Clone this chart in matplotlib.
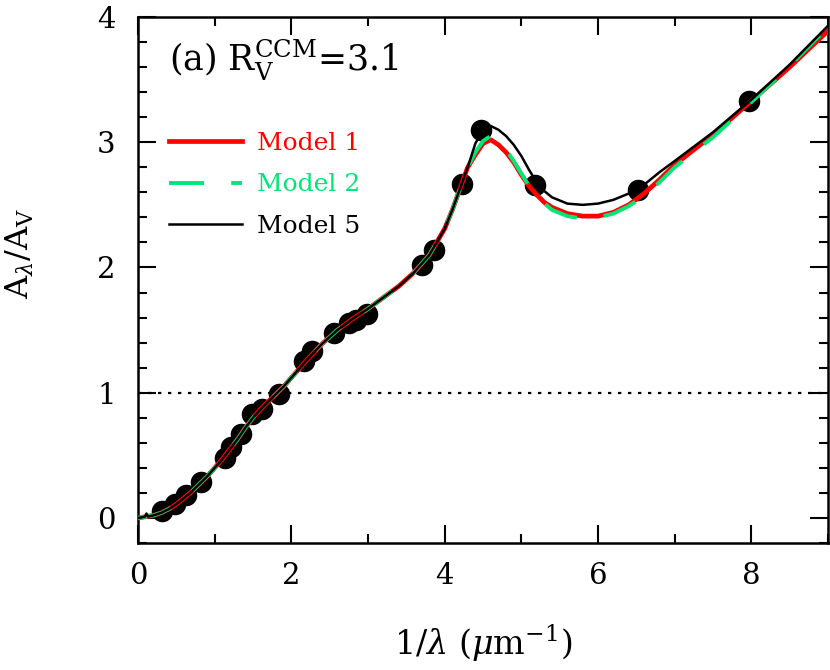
import matplotlib
matplotlib.use("Agg")
import matplotlib.pyplot as plt
from matplotlib.ticker import MultipleLocator

# observed data points
data_x = [0.31, 0.48, 0.62, 0.82, 1.13, 1.21, 1.34, 1.49, 1.62, 1.84,
          2.17, 2.27, 2.56, 2.75, 2.84, 2.99, 3.70, 3.86, 4.23, 4.48,
          5.18, 6.52, 7.97]
data_y = [0.056, 0.11, 0.18, 0.29, 0.48, 0.57, 0.67, 0.83, 0.87, 0.99,
          1.25, 1.33, 1.48, 1.56, 1.58, 1.63, 2.02, 2.14, 2.67, 3.10,
          2.66, 2.62, 3.33]

# common low-x part of curves
low_x = [0.0, 0.05, 0.1, 0.2, 0.3, 0.4, 0.5, 0.6, 0.7, 0.8, 0.9, 1.0, 1.1, 1.2,
         1.3, 1.4, 1.5, 1.6, 1.7, 1.8, 1.9, 2.0, 2.2, 2.4, 2.6, 2.8, 3.0, 3.2,
         3.4, 3.6, 3.8, 4.0, 4.1, 4.2, 4.3]
low_y = [0.0, 0.005, 0.01, 0.02, 0.04, 0.07, 0.11, 0.16, 0.21, 0.27, 0.33, 0.40,
         0.47, 0.55, 0.63, 0.72, 0.80, 0.87, 0.93, 0.99, 1.05, 1.12, 1.26, 1.39,
         1.50, 1.59, 1.67, 1.76, 1.85, 1.96, 2.10, 2.31, 2.46, 2.63, 2.80]

hi_x = [4.4, 4.5, 4.6, 4.7, 4.8, 4.9, 5.0, 5.1, 5.2, 5.3, 5.4, 5.6, 5.8, 6.0,
        6.2, 6.4, 6.6, 6.8, 7.0, 7.5, 8.0, 8.5, 9.0]
m1_hi = [2.90, 2.99, 3.02, 2.98, 2.92, 2.84, 2.74, 2.65, 2.58, 2.52, 2.48, 2.43,
         2.41, 2.41, 2.44, 2.50, 2.59, 2.70, 2.82, 3.06, 3.33, 3.60, 3.89]
m2_hi = [2.92, 3.01, 3.05, 3.01, 2.94, 2.85, 2.75, 2.65, 2.57, 2.51, 2.46, 2.41,
         2.39, 2.40, 2.43, 2.49, 2.57, 2.68, 2.80, 3.04, 3.32, 3.61, 3.92]
m5_hi = [2.99, 3.10, 3.13, 3.10, 3.05, 2.98, 2.89, 2.78, 2.68, 2.61, 2.56, 2.51,
         2.50, 2.51, 2.54, 2.59, 2.66, 2.76, 2.85, 3.08, 3.34, 3.62, 3.93]

# small spike of model 5 near x ~ 0.11
spike_x = [0.0, 0.05, 0.09, 0.11, 0.13, 0.16, 0.2]
spike_y = [0.0, 0.005, 0.01, 0.035, 0.01, 0.015, 0.02]

x_all = low_x + hi_x
m1_y = low_y + m1_hi
m2_y = low_y + m2_hi
m5_x = spike_x + low_x[4:] + hi_x
m5_y = spike_y + low_y[4:] + m5_hi

labels = ["Model 1", "Model 2", "Model 5"]
colors = ["#ff0000", "#00e676", "#000000"]

plt.rcParams['font.family'] = ['DejaVu Serif']
plt.rcParams['mathtext.fontset'] = 'dejavuserif'

fig = plt.figure(figsize=(8.3, 6.7), dpi=100)
ax = fig.add_axes([0.1663, 0.1896, 0.8313, 0.785])

ax.axhline(1.0, color='black', lw=1.6, ls=(0, (1.5, 3.0)), zorder=1)
ax.plot(data_x, data_y, 'o', color='black', ms=14.5, zorder=2)
ax.plot(x_all, m1_y, color=colors[0], lw=3.4, label=labels[0], zorder=3)
ax.plot(x_all, m2_y, color=colors[1], lw=2.8, dashes=(9, 7), label=labels[1], zorder=4)
ax.plot(m5_x, m5_y, color=colors[2], lw=1.8, label=labels[2], zorder=5)

ax.set_xlim(0, 9)
ax.set_ylim(-0.2, 4)
ax.xaxis.set_major_locator(MultipleLocator(2))
ax.xaxis.set_minor_locator(MultipleLocator(1))
ax.yaxis.set_major_locator(MultipleLocator(1))
ax.yaxis.set_minor_locator(MultipleLocator(0.2))
ax.tick_params(which='both', direction='in', top=True, right=True, width=1.5)
ax.tick_params(which='major', length=13, labelsize=21)
ax.tick_params(axis='x', which='major', pad=14)
ax.tick_params(axis='y', which='major', pad=16)
ax.tick_params(which='minor', length=6.5)
for s in ax.spines.values():
    s.set_linewidth(1.8)

ax.set_xlabel(r'1/$\lambda$ ($\mu$m$^{-1}$)', fontsize=24)
ax.xaxis.set_label_coords(0.5, -0.152)
ax.set_ylabel(r'A$_{\lambda}$/A$_{\rm V}$', fontsize=23)
ax.yaxis.set_label_coords(-0.148, 0.55)

ax.text(0.045, 0.96, r'(a) R$_{\rm V}^{\rm CCM}$=3.1', transform=ax.transAxes,
        fontsize=25, va='top', ha='left')

leg = ax.legend(loc='upper left', bbox_to_anchor=(0.045, 0.782), frameon=False,
                fontsize=18, handlelength=2.9, handletextpad=0.6,
                labelspacing=0.75, borderaxespad=0, borderpad=0,
                labelcolor='linecolor')

fig.savefig('out.png', dpi=100)
